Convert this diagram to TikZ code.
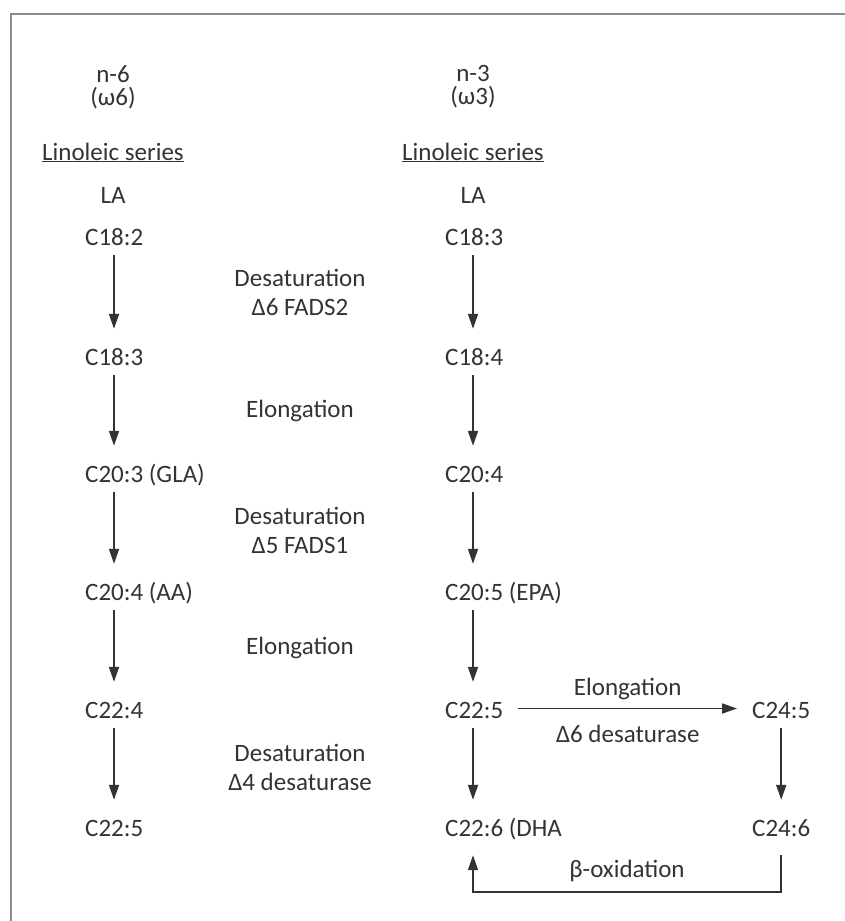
\documentclass[tikz,border=0pt]{standalone}
\usepackage{fontspec}
\setmainfont{Carlito}
\usetikzlibrary{arrows.meta}

\begin{document}
\begin{tikzpicture}[x=1pt,y=-1pt,
    every node/.style={font=\fontsize{25}{29}\selectfont,text=black!80},
    acid/.style={anchor=base west,inner xsep=0pt,inner ysep=4pt,text height=17pt,text depth=6pt},
    flow/.style={draw=black!80,line width=1.8pt,-{Triangle[length=15pt,width=10pt]},shorten >=15pt},
    enzyme/.style={align=center}]
  \useasboundingbox (0,0) rectangle (845,921);
  \draw[black!45,line width=2.5pt] (11,921) -- (11,14) -- (845,14);
  \coordinate (lcol) at (114,0);
  \coordinate (rcol) at (473,0);
  % series heads
  \node[align=center,font=\fontsize{25}{23}\selectfont] (n6) at (113,87) {n-6\\(ω6)};
  \node[align=center,font=\fontsize{25}{23}\selectfont] (n3) at (473,87) {n-3\\(ω3)};
  \node[anchor=base] (serl) at (113,160) {\underline{Linoleic series}};
  \node[anchor=base] (serr) at (473,160) {\underline{Linoleic series}};
  \node[anchor=base] (lal) at (113,203) {LA};
  \node[anchor=base] (lar) at (473,203) {LA};
  % the two chains
  \foreach \t/\y [count=\i] in {C18:2/245,C18:3/365,C20:3 (GLA)/482,C20:4 (AA)/600,C22:4/718,C22:5/836}
    \node[acid] (l\i) at (85,\y) {\t};
  \foreach \t/\y [count=\i] in {C18:3/245,C18:4/365,C20:4/482,C20:5 (EPA)/600,C22:5/718,C22:6 (DHA/836}
    \node[acid] (r\i) at (445,\y) {\t};
  \foreach \i [evaluate=\i as \j using int(\i+1)] in {1,...,5} {
    \draw[flow] (l\i.south -| lcol) -- (l\j.north -| lcol);
    \draw[flow] (r\i.south -| rcol) -- (r\j.north -| rcol);
  }
  % enzymes
  \node[enzyme] (desat6) at (300,292) {Desaturation\\Δ6 FADS2};
  \node[anchor=base] (elong1) at (300,417) {Elongation};
  \node[enzyme] (desat5) at (300,530) {Desaturation\\Δ5 FADS1};
  \node[anchor=base] (elong2) at (300,654) {Elongation};
  \node[enzyme] (desat4) at (300,767) {Desaturation\\Δ4 desaturase};
  % C24 side loop
  \node[acid] (c245) at (752,718) {C24:5};
  \node[acid] (c246) at (752,836) {C24:6};
  \draw[flow,shorten <=15pt] ([yshift=4pt]r5.east) -- ([yshift=4pt]c245.west)
    node[midway,anchor=base,yshift=13.5pt] (elong3) {Elongation}
    node[midway,anchor=base,yshift=-33.5pt] (desat6b) {Δ6 desaturase};
  \draw[flow] (c245.south) -- (c246.north);
  \draw[flow,shorten <=9pt,shorten >=9pt] (c246.south) -- ++(0,46) -| (r6.south -| rcol);
  \node[anchor=base] (boxid) at (627,877) {β-oxidation};
\end{tikzpicture}
\end{document}
